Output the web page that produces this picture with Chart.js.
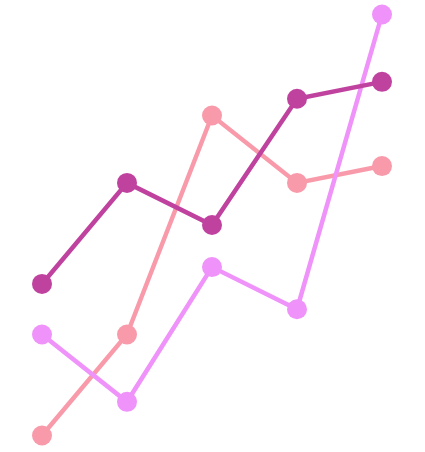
<!DOCTYPE html>
<html>
<head>
<meta charset="utf-8">
<script src="https://cdn.jsdelivr.net/npm/chart.js@4/dist/chart.umd.min.js"></script>
<style>
html,body{margin:0;padding:0;background:#fff;}
#wrap{width:425px;height:452px;}
</style>
</head>
<body>
<div id="wrap"><canvas id="c"></canvas></div>
<script>
const categories = ["A", "B", "C", "D", "E"];
const seriesDark = [36, 60, 50, 80, 84];
const seriesViolet = [24, 8, 40, 30, 100];
const seriesPink = [0, 24, 76, 60, 64];

function ds(data, color) {
  return {
    data: data,
    borderColor: color,
    backgroundColor: color,
    pointBackgroundColor: color,
    pointBorderColor: color,
    borderWidth: 4.5,
    pointRadius: 10,
    pointHoverRadius: 10,
    pointBorderWidth: 0,
    tension: 0,
    fill: false,
    clip: false
  };
}

new Chart(document.getElementById('c'), {
  type: 'line',
  data: {
    labels: categories,
    datasets: [
      ds(seriesDark, '#c0429f'),
      ds(seriesViolet, '#ef92f9'),
      ds(seriesPink, '#f99aaa')
    ]
  },
  options: {
    responsive: true,
    maintainAspectRatio: false,
    animation: false,
    layout: { padding: { left: 42, right: 43, top: 14.5, bottom: 16.5 } },
    plugins: { legend: { display: false }, tooltip: { enabled: false } },
    scales: {
      x: { display: false, offset: false },
      y: { display: false, min: 0, max: 100 }
    }
  }
});
</script>
</body>
</html>
